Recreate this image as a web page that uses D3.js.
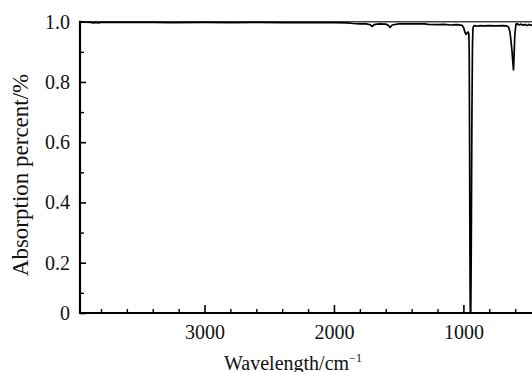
<!DOCTYPE html>
<html>
<head>
<meta charset="utf-8">
<script src="https://cdn.jsdelivr.net/npm/d3@7/dist/d3.min.js"></script>
<style>
  html, body { margin: 0; padding: 0; background: #fff; }
  svg { display: block; }
  svg text { font-family: "Liberation Serif", "Times New Roman", serif; fill: #111; }
</style>
</head>
<body>
<svg id="chart" width="532" height="372"></svg>
<script>
// Spectrum: wavenumber (cm^-1) and absorption
const wavenumbers = [3960, 3880, 3859, 3840, 3821, 3800, 3600, 3400, 3250, 3000, 2800, 2600, 2400, 2200, 2000, 1900,
  1850, 1800, 1750, 1720, 1706, 1690, 1650, 1600, 1580, 1567, 1550, 1500, 1400, 1300, 1273, 1200, 1150, 1100, 1050,
  1010, 998, 988, 980, 972, 964, 958, 955, 952, 950, 948, 946.5, 943, 940, 938, 934, 930, 926, 920, 910, 900, 870,
  850, 800, 750, 700, 665, 650, 640, 632, 624, 617, 613, 609, 603, 594, 585, 570, 555, 540, 525, 510, 495, 480, 470];
const absorption = [0.999, 0.998, 0.996, 0.998, 0.996, 0.998, 0.998, 0.998, 0.997, 0.998, 0.997, 0.998, 0.997, 0.997, 0.997, 0.996,
  0.994, 0.993, 0.993, 0.990, 0.984, 0.990, 0.993, 0.992, 0.988, 0.981, 0.989, 0.993, 0.993, 0.993, 0.991, 0.990, 0.991, 0.989, 0.990,
  0.988, 0.980, 0.965, 0.958, 0.962, 0.966, 0.960, 0.90, 0.60, 0.30, 0.10, 0.033, 0.033, 0.20, 0.35, 0.70, 0.92, 0.980, 0.986, 0.987, 0.985, 0.987,
  0.986, 0.987, 0.986, 0.987, 0.986, 0.982, 0.965, 0.935, 0.900, 0.860, 0.840, 0.880, 0.955, 0.992, 0.993, 0.989, 0.992, 0.988, 0.991, 0.987, 0.991, 0.988, 0.990];

const xMajorTicks = [3000, 2000, 1000];
const xMinorTicks = [3800, 3600, 3400, 3200, 2800, 2600, 2400, 2200, 1800, 1600, 1400, 1200, 800, 600];
const yMajorTicks = [0.033, 0.2, 0.4, 0.6, 0.8, 1.0];
const yTickLabels = ["0", "0.2", "0.4", "0.6", "0.8", "1.0"];
const yMinorTicks = [0.1, 0.3, 0.5, 0.7, 0.9];
const xTitle = "Wavelength/cm";
const xTitleSup = "\u22121";
const yTitle = "Absorption percent/%";

const svg = d3.select("#chart");
const mLeft = 80, mRight = 532, mTop = 21.7, mBottom = 313;
const serif = '"Liberation Serif", "Times New Roman", serif';

const x = d3.scaleLinear().domain([3962, 470]).range([mLeft, mRight]);
const y = d3.scaleLinear().domain([0.033, 1.0]).range([mBottom, mTop]);

const data = wavenumbers.map((w, i) => ({ w, a: absorption[i] }));

svg.append("defs").append("clipPath").attr("id", "clip")
  .append("rect").attr("x", mLeft).attr("y", mTop - 2).attr("width", mRight - mLeft).attr("height", mBottom - mTop + 2);

// top frame line
svg.append("line").attr("x1", mLeft).attr("x2", mRight).attr("y1", mTop).attr("y2", mTop)
  .attr("stroke", "#444").attr("stroke-width", 1.5);

// spectrum
const line = d3.line().x(d => x(d.w)).y(d => y(d.a));
svg.append("path").datum(data).attr("clip-path", "url(#clip)")
  .attr("d", line).attr("fill", "none").attr("stroke", "#000").attr("stroke-width", 1.7)
  .attr("stroke-linejoin", "round");

// X axis
const xAxisMajor = d3.axisBottom(x).tickValues(xMajorTicks).tickSizeInner(-8).tickSizeOuter(0).tickPadding(14).tickFormat(d3.format("d"));
const gx = svg.append("g").attr("transform", `translate(0,${mBottom})`).call(xAxisMajor);
gx.attr("font-family", serif);
gx.select(".domain").remove();
gx.selectAll("line").attr("stroke", "#000").attr("stroke-width", 1.6);
gx.selectAll("text").attr("font-size", 20).attr("dy", "0.71em").attr("y", 12).attr("font-family", serif);

const gxm = svg.append("g").attr("transform", `translate(0,${mBottom})`)
  .call(d3.axisBottom(x).tickValues(xMinorTicks).tickSizeInner(-4).tickSizeOuter(0).tickFormat(""));
gxm.select(".domain").remove();
gxm.selectAll("line").attr("stroke", "#000").attr("stroke-width", 1.4);

// Y axis
const gy = svg.append("g").attr("transform", `translate(${mLeft},0)`)
  .call(d3.axisLeft(y).tickValues(yMajorTicks).tickSizeInner(-6).tickSizeOuter(0).tickPadding(10)
    .tickFormat((d, i) => yTickLabels[i]));
gy.attr("font-family", serif);
gy.select(".domain").remove();
gy.selectAll("line").attr("stroke", "#000").attr("stroke-width", 1.6);
gy.selectAll("text").attr("font-size", 20).attr("x", -10).attr("font-family", serif);

const gym = svg.append("g").attr("transform", `translate(${mLeft},0)`)
  .call(d3.axisLeft(y).tickValues(yMinorTicks).tickSizeInner(-4).tickSizeOuter(0).tickFormat(""));
gym.select(".domain").remove();
gym.selectAll("line").attr("stroke", "#000").attr("stroke-width", 1.4);

// axis lines
svg.append("line").attr("x1", mLeft).attr("x2", mLeft).attr("y1", mTop - 1).attr("y2", mBottom + 1)
  .attr("stroke", "#000").attr("stroke-width", 2.2);
svg.append("line").attr("x1", mLeft - 1).attr("x2", mRight).attr("y1", mBottom).attr("y2", mBottom)
  .attr("stroke", "#000").attr("stroke-width", 2.2);

// titles
const xt = svg.append("text").attr("x", 293).attr("y", 369.5).attr("text-anchor", "middle")
  .attr("font-size", 20).attr("font-family", serif);
xt.append("tspan").text(xTitle);
xt.append("tspan").attr("font-size", 12).attr("dy", -8).text(xTitleSup);

svg.append("text").attr("transform", "translate(28,175) rotate(-90)")
  .attr("text-anchor", "middle").attr("font-size", 23).attr("font-family", serif).text(yTitle);
</script>
</body>
</html>
